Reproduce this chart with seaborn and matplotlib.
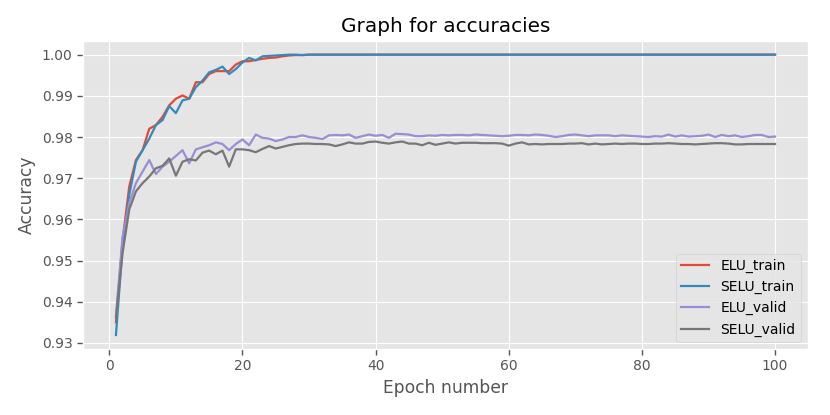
import numpy as np
import pandas as pd
import matplotlib
matplotlib.use("Agg")
import matplotlib.pyplot as plt
import seaborn as sns

epochs = list(range(1, 101))

elu_train_head = [0.9350, 0.9550, 0.9680, 0.9744, 0.9768, 0.9820, 0.9829, 0.9849, 0.9877, 0.9893,
                  0.9901, 0.9893, 0.9933, 0.9933, 0.9953, 0.9960, 0.9960, 0.9960, 0.9976, 0.9984,
                  0.9984, 0.9987, 0.9990, 0.9992, 0.9993, 0.9996, 0.9998, 0.9999, 0.9999, 1.0000]
elu_train = elu_train_head + [1.0000] * 70

selu_train_head = [0.9319, 0.9535, 0.9660, 0.9740, 0.9768, 0.9796, 0.9829, 0.9841, 0.9875, 0.9858,
                   0.9889, 0.9893, 0.9921, 0.9937, 0.9957, 0.9963, 0.9971, 0.9953, 0.9965, 0.9981,
                   0.9992, 0.9986, 0.9996, 0.9997, 0.9998, 0.9999, 1.0000, 1.0000, 0.9999, 1.0000]
selu_train = selu_train_head + [1.0000] * 70

elu_valid = [0.9366, 0.9559, 0.9640, 0.9688, 0.9716, 0.9744, 0.9710, 0.9728, 0.9740, 0.9754,
             0.9768, 0.9736, 0.9770, 0.9775, 0.9780, 0.9787, 0.9783, 0.9768, 0.9783, 0.9794,
             0.9780, 0.9806, 0.9798, 0.9796, 0.9790, 0.9794, 0.9800, 0.9800, 0.9804, 0.9800,
             0.9798, 0.9795, 0.9804, 0.9805, 0.9804, 0.9806, 0.9798, 0.9802, 0.9806, 0.9803,
             0.9805, 0.9798, 0.9808, 0.9807, 0.9806, 0.9802, 0.9802, 0.9804, 0.9803, 0.9805,
             0.9804, 0.9805, 0.9805, 0.9804, 0.9806, 0.9805, 0.9804, 0.9803, 0.9802, 0.9803,
             0.9805, 0.9805, 0.9804, 0.9806, 0.9805, 0.9803, 0.9800, 0.9802, 0.9805, 0.9806,
             0.9804, 0.9802, 0.9804, 0.9804, 0.9804, 0.9802, 0.9804, 0.9803, 0.9802, 0.9801,
             0.9800, 0.9802, 0.9801, 0.9806, 0.9801, 0.9804, 0.9801, 0.9802, 0.9803, 0.9806,
             0.9800, 0.9805, 0.9802, 0.9804, 0.9800, 0.9802, 0.9805, 0.9805, 0.9800, 0.9801]

selu_valid = [0.9362, 0.9519, 0.9624, 0.9668, 0.9688, 0.9704, 0.9724, 0.9730, 0.9748, 0.9706,
              0.9740, 0.9746, 0.9743, 0.9762, 0.9767, 0.9758, 0.9767, 0.9728, 0.9770, 0.9770,
              0.9768, 0.9763, 0.9771, 0.9778, 0.9772, 0.9776, 0.9780, 0.9783, 0.9784, 0.9784,
              0.9783, 0.9783, 0.9782, 0.9778, 0.9782, 0.9787, 0.9784, 0.9784, 0.9788, 0.9789,
              0.9786, 0.9784, 0.9787, 0.9789, 0.9784, 0.9784, 0.9780, 0.9786, 0.9781, 0.9784,
              0.9787, 0.9784, 0.9786, 0.9786, 0.9786, 0.9785, 0.9785, 0.9785, 0.9784, 0.9779,
              0.9784, 0.9787, 0.9782, 0.9783, 0.9782, 0.9783, 0.9783, 0.9783, 0.9784, 0.9784,
              0.9785, 0.9782, 0.9784, 0.9782, 0.9783, 0.9784, 0.9783, 0.9784, 0.9784, 0.9783,
              0.9783, 0.9784, 0.9784, 0.9785, 0.9784, 0.9783, 0.9783, 0.9782, 0.9783, 0.9784,
              0.9785, 0.9785, 0.9784, 0.9782, 0.9782, 0.9783, 0.9783, 0.9783, 0.9783, 0.9783]

series_names = ["ELU_train", "SELU_train", "ELU_valid", "SELU_valid"]
series_values = [elu_train, selu_train, elu_valid, selu_valid]
colors = ["#E24A33", "#348ABD", "#988ED5", "#777777"]

frames = []
for name, vals in zip(series_names, series_values):
    frames.append(pd.DataFrame({"epoch": epochs, "accuracy": vals, "series": name}))
df = pd.concat(frames, ignore_index=True)

plt.style.use("ggplot")
fig = plt.figure(figsize=(8.3, 4.15), dpi=100)
ax = fig.add_axes([0.100, 0.159, 0.8735, 0.743])

sns.lineplot(data=df, x="epoch", y="accuracy", hue="series", hue_order=series_names,
             palette=colors, linewidth=1.6, ax=ax)

ax.set_title("Graph for accuracies", fontsize=14.4, color="black")
ax.set_xlabel("Epoch number", fontsize=12.3, color="#555555")
ax.set_ylabel("Accuracy", fontsize=12.3, color="#555555")
ax.set_xticks([0, 20, 40, 60, 80, 100])
ax.set_yticks([0.93, 0.94, 0.95, 0.96, 0.97, 0.98, 0.99, 1.00])
ax.yaxis.set_major_formatter(matplotlib.ticker.FormatStrFormatter("%.2f"))
ax.set_xlim(-3.95, 104.95)
ax.set_ylim(0.9285, 1.0034)
ax.tick_params(labelsize=10, colors="#555555", direction="out", length=4, width=1)
leg = ax.legend(loc="lower right", fontsize=10, title=None)

fig.savefig("out.png", dpi=100)
